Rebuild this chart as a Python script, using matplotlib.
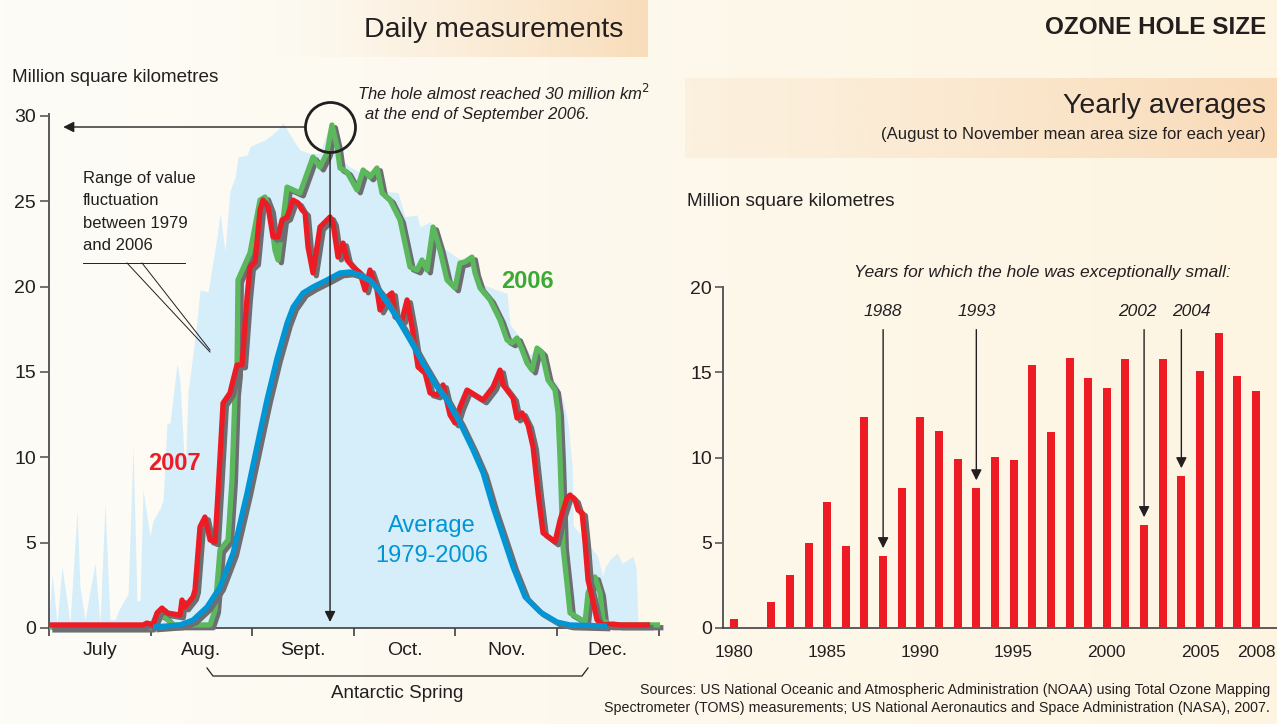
import numpy as np
import matplotlib
matplotlib.use('Agg')
import matplotlib.pyplot as plt
from matplotlib import patheffects as pe
from matplotlib.colors import to_rgb

plt.rcParams['font.family'] = ['Liberation Sans', 'DejaVu Sans']

# ---------------- Daily data (x = months since 1 July, value = million km2)
env_x = [0.0, 0.03, 0.079, 0.128, 0.207, 0.276, 0.305, 0.354, 0.453, 0.502, 0.551, 0.600, 0.650,
         0.699, 0.778, 0.827, 0.866, 0.896, 0.925, 0.994, 1.024, 1.093, 1.122, 1.161, 1.191, 1.260,
         1.289, 1.339, 1.368, 1.407, 1.447, 1.486, 1.565, 1.654, 1.683, 1.732, 1.781, 1.831, 1.860,
         1.949, 1.978, 2.047, 2.126, 2.175, 2.254, 2.303, 2.343, 2.402, 2.470, 2.569, 2.667, 2.766,
         2.864, 2.963, 3.061, 3.159, 3.287, 3.435, 3.504, 3.622, 3.652, 3.750, 3.848, 4.045, 4.163,
         4.242, 4.409, 4.508, 4.537, 4.636, 4.734, 4.833, 4.911, 5.000, 5.049, 5.079, 5.108, 5.148,
         5.160, 5.300, 5.400, 5.450, 5.472, 5.522, 5.591, 5.640, 5.748, 5.778, 5.797, 5.817]
env_v = [0.5, 3.2, 0.3, 3.6, 0.3, 6.9, 2.4, 0.5, 3.8, 0.3, 7.3, 0.5, 0.5,
         1.2, 2.0, 10.6, 1.6, 1.6, 8.1, 5.4, 6.3, 7.0, 7.5, 12.0, 12.0, 15.5,
         14.5, 8.9, 13.8, 15.6, 17.5, 19.8, 19.7, 22.9, 24.3, 22.1, 25.6, 26.4, 27.6,
         27.7, 28.2, 28.4, 28.6, 28.8, 29.2, 29.6, 29.2, 28.6, 28.0, 27.8, 27.8, 29.6,
         27.5, 27.0, 26.7, 26.8, 25.6, 25.5, 24.1, 24.2, 23.5, 23.8, 22.4, 21.6, 21.9,
         20.2, 19.8, 19.6, 17.8, 17.0, 16.0, 16.6, 15.0, 14.3, 13.5, 12.8, 12.0, 9.5,
         6.0, 5.0, 4.2, 3.0, 3.6, 4.0, 4.4, 3.8, 4.2, 3.5, 0.2, 0.0]

y2006_x = [0.0, 1.00, 1.073, 1.142, 1.220, 1.585, 1.634, 1.683, 1.762, 1.801, 1.831, 1.850, 1.860,
           1.978, 2.077, 2.126, 2.175, 2.224, 2.254, 2.343, 2.470, 2.598, 2.667, 2.736, 2.785,
           2.835, 2.864, 2.933, 3.031, 3.091, 3.159, 3.228, 3.278, 3.356, 3.455, 3.553, 3.622,
           3.671, 3.720, 3.780, 3.848, 3.917, 3.996, 4.045, 4.094, 4.163, 4.193, 4.242, 4.341,
           4.439, 4.508, 4.557, 4.606, 4.656, 4.705, 4.754, 4.803, 4.852, 4.911, 4.980, 5.010,
           5.030, 5.059, 5.108, 5.128, 5.197, 5.276, 5.305, 5.374, 5.423, 5.453, 5.522, 6.014]
y2006_v = [0.05, 0.05, 0.88, 0.64, 0.18, 0.18, 1.05, 4.57, 5.16, 8.67, 13.8, 14.9, 20.39,
           21.97, 25.07, 25.25, 24.49, 22.14, 21.56, 25.83, 25.48, 27.59, 27.0, 27.83, 29.47,
           28.18, 26.95, 26.71, 25.66, 26.83, 26.42, 26.95, 25.48, 25.07, 23.90, 21.15, 20.97,
           21.56, 20.97, 23.49, 22.14, 20.39, 19.92, 21.38, 21.44, 21.73, 20.80, 19.92, 19.22,
           18.04, 16.87, 16.70, 16.99, 16.29, 15.52, 15.11, 16.40, 16.11, 14.53, 13.94, 12.6,
           9.84, 4.75, 2.05, 0.88, 0.64, 0.35, 2.05, 2.99, 2.05, 0.47, 0.18, 0.18]

y2007_x = [0.0, 0.925, 0.965, 1.024, 1.063, 1.112, 1.161, 1.289, 1.309, 1.339, 1.417, 1.437, 1.486,
           1.535, 1.585, 1.634, 1.663, 1.713, 1.781, 1.811, 1.850, 1.900, 1.949, 1.978, 2.028,
           2.077, 2.106, 2.156, 2.205, 2.254, 2.293, 2.343, 2.402, 2.451, 2.490, 2.520, 2.549,
           2.598, 2.667, 2.736, 2.766, 2.795, 2.844, 2.894, 2.933, 2.992, 3.061, 3.110, 3.159,
           3.228, 3.258, 3.327, 3.376, 3.406, 3.474, 3.524, 3.573, 3.602, 3.632, 3.701, 3.750,
           3.819, 3.878, 3.947, 3.996, 4.045, 4.114, 4.272, 4.370, 4.439, 4.469, 4.567, 4.606,
           4.656, 4.715, 4.764, 4.813, 4.862, 4.931, 4.980, 5.030, 5.098, 5.128, 5.177, 5.207,
           5.246, 5.276, 5.305, 5.344, 5.394, 5.453, 5.551, 5.620, 5.915]
y2007_v = [0.18, 0.18, 0.29, 0.18, 0.88, 1.17, 0.88, 0.76, 1.64, 1.23, 1.82, 2.23, 5.92,
           6.50, 5.16, 5.04, 7.91, 13.18, 13.77, 14.5, 15.41, 15.41, 19.39, 21.15, 21.44,
           24.49, 25.07, 24.66, 22.91, 22.91, 23.90, 24.08, 25.07, 24.90, 24.49, 24.31, 22.32,
           20.80, 23.49, 23.90, 24.08, 23.73, 21.73, 22.55, 21.56, 21.15, 20.80, 19.80, 20.97,
           19.80, 18.63, 19.39, 19.63, 18.22, 18.04, 19.22, 17.63, 16.46, 15.29, 14.94, 13.77,
           13.65, 14.24, 12.48, 12.01, 12.95, 13.94, 13.36, 14.12, 15.11, 14.24, 13.47, 12.30,
           12.60, 11.89, 10.60, 7.91, 5.57, 5.27, 5.04, 6.33, 7.62, 7.79, 7.50, 6.91,
           6.74, 4.98, 2.81, 1.82, 0.47, 0.18, 0.23, 0.18, 0.18]

avg_x = [1.024, 1.289, 1.417, 1.555, 1.683, 1.811, 1.949, 2.077, 2.146, 2.244, 2.343, 2.402,
         2.500, 2.598, 2.736, 2.864, 2.963, 3.061, 3.159, 3.258, 3.356, 3.455, 3.553, 3.681,
         3.819, 3.917, 4.045, 4.173, 4.272, 4.370, 4.469, 4.567, 4.685, 4.833, 5.000, 5.128, 5.492]
avg_v = [0.06, 0.18, 0.47, 1.23, 2.40, 4.39, 7.91, 11.5, 13.4, 15.8, 17.87, 18.80,
         19.63, 19.98, 20.39, 20.80, 20.86, 20.68, 20.39, 19.68, 18.80, 17.87, 16.87, 15.52,
         14.12, 13.36, 12.01, 10.43, 9.08, 7.09, 5.33, 3.57, 1.82, 0.94, 0.35, 0.18, 0.12]

months = ['July', 'Aug.', 'Sept.', 'Oct.', 'Nov.', 'Dec.']
left_yticks = [0, 5, 10, 15, 20, 25, 30]
peak_month, peak_value = 2.766, 29.35

# ---------------- Yearly data
years = list(range(1980, 2009))
yearly = [0.55, 0.05, 1.5, 3.08, 5.0, 7.4, 4.82, 12.37, 4.23, 8.21, 12.37, 11.55, 9.91, 8.21,
          10.03, 9.85, 15.41, 11.49, 15.82, 14.65, 14.07, 15.77, 6.05, 15.77, 8.92, 15.06,
          17.29, 14.77, 13.89]
small_years = [1988, 1993, 2002, 2004]
small_label_x = [1988.0, 1993.0, 2001.62, 2004.52]
year_ticks = [1980, 1985, 1990, 1995, 2000, 2005, 2008]
right_yticks = [0, 5, 10, 15, 20]

# ---------------- colours
TXT = '#231f20'
GREEN = '#5cb85c'
GREEN_T = '#3aaa35'
RED = '#ed1c24'
BLUE = '#0096d6'
ENV = '#d6eefa'
SHADOW = '#6d6e71'

W, H = 1277, 724
fig = plt.figure(figsize=(W / 100, H / 100), dpi=100)

# background
bg = fig.add_axes([0, 0, 1, 1], zorder=-10)
bg.axis('off')
c0 = np.array(to_rgb('#fdfcf7'))
c1 = np.array(to_rgb('#fdf5e2'))
t = np.linspace(0, 1, 256)
grad = c0[None, :] * (1 - t[:, None]) + c1[None, :] * t[:, None]
bg.imshow(grad[None, :, :], extent=[0, W, H, 0], aspect='auto')


def hbox(ax, x0, x1, y0, y1, col, a0, a1, power=1.0):
    tt = np.linspace(0, 1, 256)
    rgb = np.array(to_rgb(col))
    img = np.zeros((1, 256, 4))
    img[0, :, :3] = rgb
    img[0, :, 3] = a0 + (a1 - a0) * tt ** power
    ax.imshow(img, extent=[x0, x1, y1, y0], aspect='auto')


hbox(bg, 270, 648, 0, 57, '#f9ddbb', 0.0, 1.0, 1.3)
hbox(bg, 685, W, 78, 158, '#f9dbb9', 0.25, 1.0, 1.4)
bg.set_xlim(0, W)
bg.set_ylim(H, 0)

# ---------------- left chart
axL = fig.add_axes([49 / W, (H - 628) / H, (662 - 49) / W, (628 - 114.2) / H])
axL.set_facecolor('none')
axL.set_xlim(0, 6.033)
axL.set_ylim(0, 30.1)

axL.fill_between(env_x, 0, env_v, color=ENV, lw=0, zorder=1)

shadow = [pe.SimpleLineShadow(offset=(2.4, -2.0), shadow_color=SHADOW, alpha=1.0), pe.Normal()]
for xs, vs, col, z in [(y2006_x, y2006_v, GREEN, 3), (y2007_x, y2007_v, RED, 4), (avg_x, avg_v, BLUE, 5)]:
    axL.plot(xs, vs, color=col, lw=3.8, zorder=z, clip_on=False, solid_joinstyle='round',
             solid_capstyle='butt', path_effects=shadow)

for s in ['top', 'right']:
    axL.spines[s].set_visible(False)
axL.spines['left'].set_color('#58595b')
axL.spines['left'].set_linewidth(1.4)
axL.spines['bottom'].set_color('#414042')
axL.spines['bottom'].set_linewidth(1.2)
axL.spines['left'].set_bounds(0, 30.1)
axL.set_yticks(left_yticks)
axL.set_yticklabels([str(v) for v in left_yticks])
axL.tick_params(axis='y', length=6.5, width=1.2, color='#58595b', pad=3, labelsize=14, labelcolor=TXT)
axL.set_xticks(range(0, 7))
axL.set_xticklabels([])
axL.set_xticks([i + 0.5 for i in range(6)], minor=True)
axL.set_xticklabels(months, minor=True)
axL.tick_params(axis='x', which='major', length=6, width=1.2, color='#414042', direction='out')
axL.tick_params(axis='x', which='minor', length=0, pad=10, labelsize=14, labelcolor=TXT)

# peak annotation
axL.plot([peak_month], [peak_value], marker='o', ms=36, mfc='none', mec=TXT, mew=2.0,
         clip_on=False, zorder=8)
axL.annotate('', xy=(0.14, peak_value), xytext=(2.52, peak_value),
             arrowprops=dict(arrowstyle='-|>', color=TXT, lw=1.0, mutation_scale=16,
                             shrinkA=0, shrinkB=0), zorder=8, annotation_clip=False)
axL.annotate('', xy=(peak_month, 0.35), xytext=(peak_month, 27.9),
             arrowprops=dict(arrowstyle='-|>', color=TXT, lw=1.0, mutation_scale=16,
                             shrinkA=0, shrinkB=0), zorder=8, annotation_clip=False)

# ---------------- right chart
axR = fig.add_axes([723 / W, (H - 628) / H, (W - 723) / W, (628 - 287) / H])
axR.set_facecolor('none')
axR.set_xlim(1979.41, 2009.13)
axR.set_ylim(0, 20)
axR.bar(years, yearly, width=0.43, color=RED, zorder=3)
for s in ['top', 'right']:
    axR.spines[s].set_visible(False)
axR.spines['left'].set_color('#58595b')
axR.spines['left'].set_linewidth(1.4)
axR.spines['bottom'].set_color('#414042')
axR.spines['bottom'].set_linewidth(1.2)
axR.set_yticks(right_yticks)
axR.set_yticklabels([str(v) for v in right_yticks])
axR.tick_params(axis='y', length=6, width=1.2, color='#58595b', pad=2, labelsize=14, labelcolor=TXT)
axR.set_xticks(year_ticks)
axR.set_xticklabels([str(y) for y in year_ticks])
axR.tick_params(axis='x', length=0, pad=12, labelsize=12.5, labelcolor=TXT)

for yr, lx in zip(small_years, small_label_x):
    val = yearly[years.index(yr)]
    axR.annotate('', xy=(yr, val + 0.45), xytext=(yr, 17.5),
                 arrowprops=dict(arrowstyle='-|>', color=TXT, lw=1.0, mutation_scale=16,
                                 shrinkA=0, shrinkB=0), zorder=5)
    axR.text(lx, 18.55, str(yr), ha='center', va='center', style='italic', fontsize=12.5,
             color=TXT, clip_on=False)

# ---------------- overlay texts
ov = fig.add_axes([0, 0, 1, 1], zorder=20)
ov.set_facecolor('none')
ov.axis('off')
ov.set_xlim(0, W)
ov.set_ylim(H, 0)

ov.text(623, 30, 'Daily measurements', ha='right', va='center', fontsize=20.5, color=TXT)
ov.text(1266, 28, 'OZONE HOLE SIZE', ha='right', va='center', fontsize=17.5, fontweight='bold',
        color=TXT)
ov.text(1266, 106, 'Yearly averages', ha='right', va='center', fontsize=20.5, color=TXT)
ov.text(1266, 134, '(August to November mean area size for each year)', ha='right', va='center',
        fontsize=12, color=TXT)
ov.text(12, 78, 'Million square kilometres', ha='left', va='center', fontsize=13.6, color=TXT)
ov.text(687, 201, 'Million square kilometres', ha='left', va='center', fontsize=13.7, color=TXT)
ov.text(357, 93, 'The hole almost reached 30 million km$^2$', ha='left', va='center',
        fontsize=12, style='italic', color=TXT)
ov.text(365, 114, 'at the end of September 2006.', ha='left', va='center', fontsize=12,
        style='italic', color=TXT)
ov.text(83, 212, 'Range of value\nfluctuation\nbetween 1979\nand 2006', ha='left', va='center',
        fontsize=12, color=TXT, linespacing=1.62)
ov.plot([83, 185], [263, 263], color=TXT, lw=0.7)
ov.plot([127, 210], [263, 352], color=TXT, lw=0.7)
ov.plot([142, 210], [263, 350], color=TXT, lw=0.7)
ov.text(527, 281, '2006', ha='center', va='center', fontsize=17, fontweight='bold', color=GREEN_T)
ov.text(174, 463, '2007', ha='center', va='center', fontsize=17, fontweight='bold', color=RED)
ov.text(432, 541, 'Average\n1979-2006', ha='center', va='center', fontsize=17, color=BLUE,
        linespacing=1.45)
ov.text(1042, 272, 'Years for which the hole was exceptionally small:', ha='center', va='center',
        fontsize=12.5, style='italic', color=TXT)
ov.plot([207, 213, 582, 588], [668, 676, 676, 668], color=TXT, lw=0.9)
ov.text(397, 693, 'Antarctic Spring', ha='center', va='center', fontsize=13.5, color=TXT)
ov.text(1270, 690, 'Sources: US National Oceanic and Atmospheric Administration (NOAA) using Total Ozone Mapping',
        ha='right', va='center', fontsize=10.3, color=TXT)
ov.text(1270, 708, 'Spectrometer (TOMS) measurements; US National Aeronautics and Space Administration (NASA), 2007.',
        ha='right', va='center', fontsize=10.3, color=TXT)

fig.savefig('out.png', dpi=100)
